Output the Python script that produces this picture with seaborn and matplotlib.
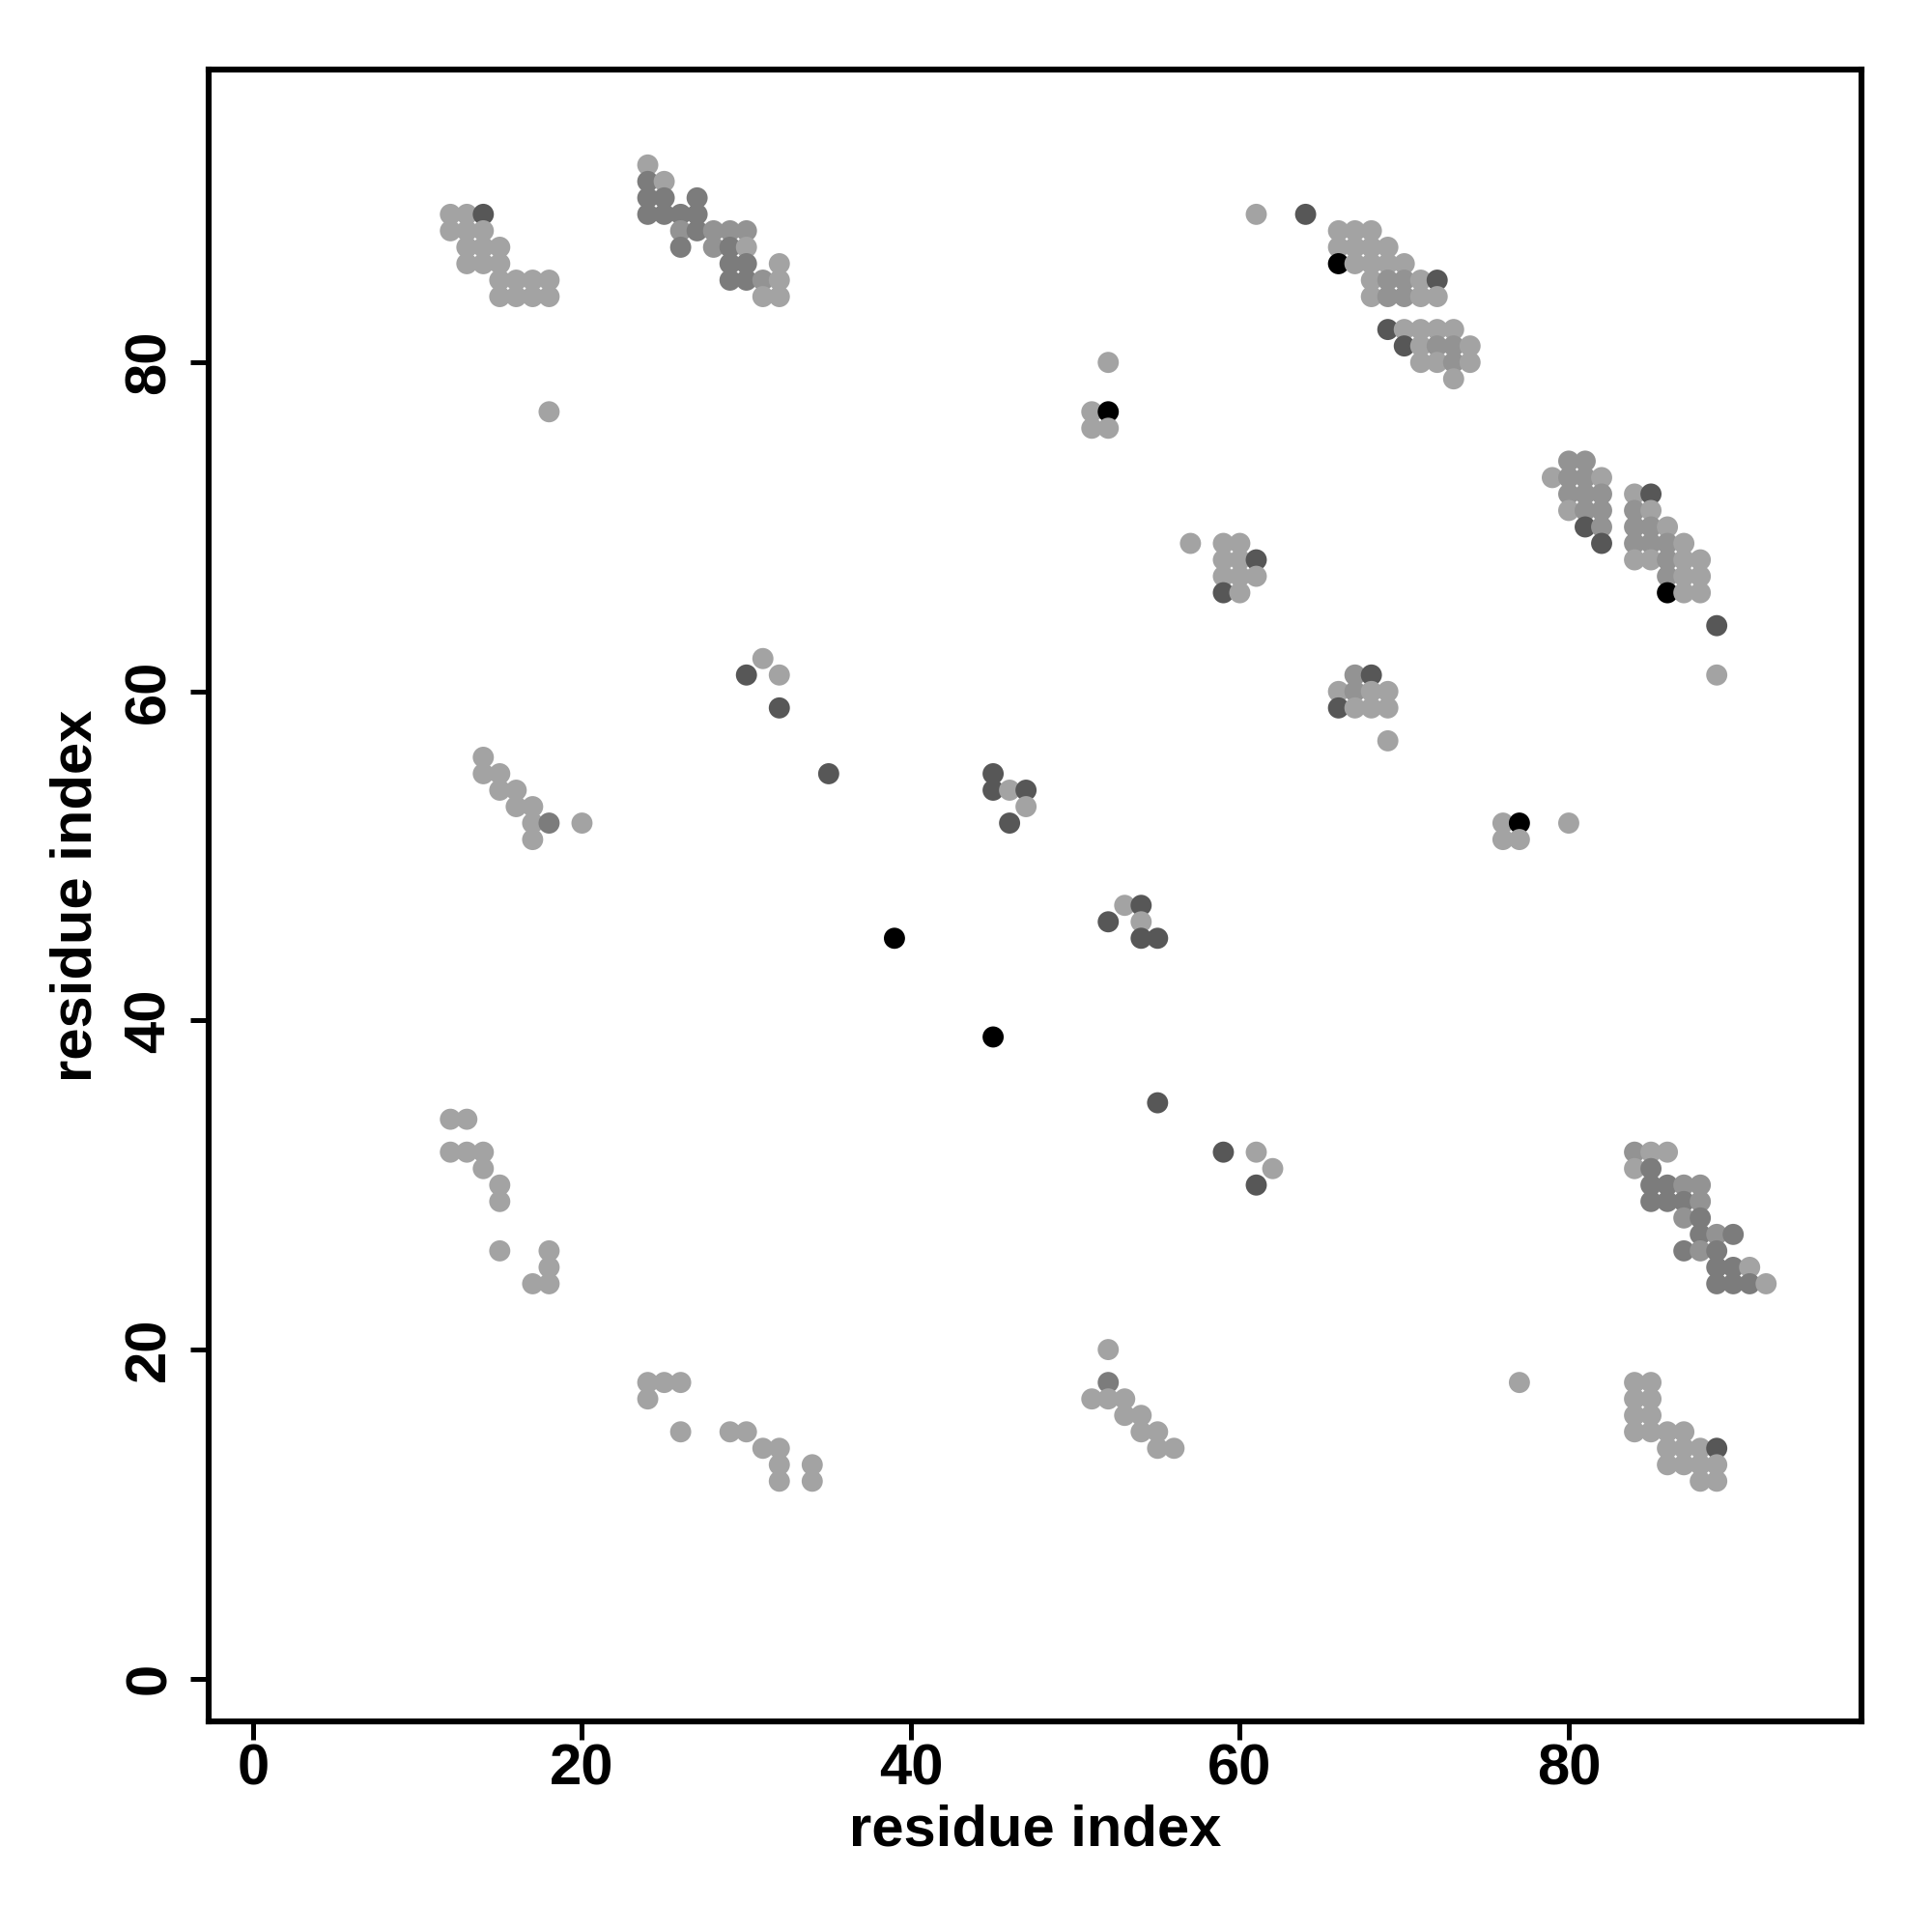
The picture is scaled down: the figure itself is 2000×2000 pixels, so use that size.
import matplotlib
matplotlib.use('Agg')
import pandas as pd
import numpy as np
import matplotlib.pyplot as plt
import seaborn as sns

# residue pairs (x, y) and a shade level (1 light ... 5 black)
res_x = [12, 13, 14, 12, 13, 14, 13, 14, 15, 13, 14, 15, 15, 16, 17, 18, 15, 16, 17, 18,
         24, 24, 25, 24, 25, 27, 24, 25, 26, 27, 26, 27, 28, 29, 30, 26, 28, 29, 30, 29, 30, 32, 29, 30, 31, 32, 31, 32,
         61, 64, 66, 67, 68, 66, 67, 68, 69, 66, 67, 68, 69, 70, 68, 69, 70, 71, 72, 68, 69, 70, 71, 72,
         69, 70, 71, 72, 73, 70, 71, 72, 73, 74, 71, 72, 73, 74, 73,
         80, 81, 79, 80, 81, 82, 80, 81, 82, 84, 85, 80, 81, 82, 84, 85, 81, 82, 84, 85, 86,
         82, 84, 85, 86, 87, 84, 85, 86, 87, 88, 86, 87, 88, 86, 87, 88, 89, 89,
         84, 85, 86, 84, 85, 85, 86, 87, 88, 85, 86, 87, 88, 87, 88, 88, 89, 90, 87, 88, 89,
         89, 90, 91, 89, 90, 91, 92,
         84, 85, 84, 85, 84, 85, 84, 85, 86, 87, 86, 87, 88, 89, 86, 87, 88, 89, 88, 89,
         57, 59, 60, 59, 60, 61, 59, 60, 61, 59, 60,
         67, 68, 66, 67, 68, 69, 66, 67, 68, 69, 69,
         14, 14, 15, 15, 16, 16, 17, 17, 18, 20, 17,
         12, 13, 12, 13, 14, 14, 15, 15, 15, 18, 18, 17, 18,
         24, 25, 26, 24, 26, 29, 30, 31, 32, 32, 34, 32, 34,
         52, 52, 51, 52, 53, 53, 54, 54, 55, 55, 56,
         45, 45, 46, 47, 47, 46,
         53, 54, 52, 54, 54, 55,
         31, 30, 32, 32, 35,
         18, 52, 51, 52, 51, 52, 39, 45, 55, 59, 61, 61, 62, 77, 76, 77, 76, 77, 80]
res_y = [89, 89, 89, 88, 88, 88, 87, 87, 87, 86, 86, 86, 85, 85, 85, 85, 84, 84, 84, 84,
         92, 91, 91, 90, 90, 90, 89, 89, 89, 89, 88, 88, 88, 88, 88, 87, 87, 87, 87, 86, 86, 86, 85, 85, 85, 85, 84, 84,
         89, 89, 88, 88, 88, 87, 87, 87, 87, 86, 86, 86, 86, 86, 85, 85, 85, 85, 85, 84, 84, 84, 84, 84,
         82, 82, 82, 82, 82, 81, 81, 81, 81, 81, 80, 80, 80, 80, 79,
         74, 74, 73, 73, 73, 73, 72, 72, 72, 72, 72, 71, 71, 71, 71, 71, 70, 70, 70, 70, 70,
         69, 69, 69, 69, 69, 68, 68, 68, 68, 68, 67, 67, 67, 66, 66, 66, 64, 61,
         32, 32, 32, 31, 31, 30, 30, 30, 30, 29, 29, 29, 29, 28, 28, 27, 27, 27, 26, 26, 26,
         25, 25, 25, 24, 24, 24, 24,
         18, 18, 17, 17, 16, 16, 15, 15, 15, 15, 14, 14, 14, 14, 13, 13, 13, 13, 12, 12,
         69, 69, 69, 68, 68, 68, 67, 67, 67, 66, 66,
         61, 61, 60, 60, 60, 60, 59, 59, 59, 59, 57,
         56, 55, 55, 54, 54, 53, 53, 52, 52, 52, 51,
         34, 34, 32, 32, 32, 31, 30, 29, 26, 26, 25, 24, 24,
         18, 18, 18, 17, 15, 15, 15, 14, 14, 13, 13, 12, 12,
         20, 18, 17, 17, 17, 16, 16, 15, 15, 14, 14,
         55, 54, 54, 54, 53, 52,
         47, 47, 46, 46, 45, 45,
         62, 61, 61, 59, 55,
         77, 80, 77, 77, 76, 76, 45, 39, 35, 32, 32, 30, 31, 18, 52, 52, 51, 51, 52]
shade = [1, 1, 4, 1, 1, 1, 1, 1, 1, 1, 1, 1, 1, 1, 1, 1, 1, 1, 1, 1,
         1, 3, 1, 3, 3, 3, 3, 3, 3, 3, 2, 3, 2, 2, 2, 3, 2, 3, 1, 3, 3, 1, 3, 3, 2, 1, 1, 1,
         1, 4, 1, 1, 1, 1, 1, 1, 1, 5, 1, 1, 1, 1, 1, 2, 2, 1, 4, 1, 2, 2, 1, 1,
         4, 1, 1, 1, 1, 4, 1, 2, 2, 1, 1, 1, 2, 1, 1,
         2, 2, 1, 2, 2, 1, 2, 2, 2, 1, 4, 1, 2, 2, 2, 1, 4, 2, 2, 2, 1,
         4, 2, 2, 2, 1, 1, 1, 2, 1, 1, 2, 1, 1, 5, 1, 1, 4, 1,
         2, 1, 1, 1, 3, 3, 3, 2, 2, 3, 3, 3, 2, 2, 3, 3, 2, 3, 3, 2, 3,
         3, 3, 1, 3, 3, 3, 1,
         1, 1, 1, 1, 1, 1, 1, 1, 1, 1, 1, 1, 1, 4, 1, 1, 1, 1, 1, 1,
         1, 1, 1, 1, 1, 4, 1, 1, 1, 4, 1,
         2, 4, 1, 2, 1, 1, 4, 1, 1, 1, 1,
         1, 1, 1, 1, 1, 1, 1, 1, 3, 1, 1,
         1, 1, 1, 1, 1, 1, 1, 1, 1, 1, 1, 1, 1,
         1, 1, 1, 1, 1, 1, 1, 1, 1, 1, 1, 1, 1,
         1, 3, 1, 1, 1, 1, 1, 1, 1, 1, 1,
         4, 4, 1, 4, 1, 4,
         1, 4, 4, 1, 4, 4,
         1, 4, 1, 4, 4,
         1, 1, 1, 5, 1, 1, 5, 5, 4, 4, 1, 4, 1, 1, 1, 5, 1, 1, 1]

shade_colors = {1: '#a3a3a3', 2: '#939393', 3: '#7c7c7c', 4: '#575757', 5: '#000000'}
tick_vals = [0, 20, 40, 60, 80]

df = pd.DataFrame({'x': res_x, 'y': res_y, 'shade': shade})

sns.set_style('white')
plt.rcParams['font.family'] = ['Liberation Sans', 'DejaVu Sans']
plt.rcParams['font.weight'] = 'bold'
plt.rcParams['text.color'] = 'black'
plt.rcParams['axes.labelcolor'] = 'black'

fig = plt.figure(figsize=(10, 10), dpi=200)
ax = fig.add_axes([0.108, 0.109, 0.8555, 0.855])

sns.scatterplot(data=df, x='x', y='y', hue='shade', palette=shade_colors,
                s=62, linewidth=0, legend=False, ax=ax)

ax.set_xlim(-2.7, 97.8)
ax.set_ylim(-2.6, 97.8)
ax.set_xticks(tick_vals)
ax.set_yticks(tick_vals)
ax.set_xticklabels([str(t) for t in tick_vals], fontsize=21.5, fontweight='bold')
ax.set_yticklabels([str(t) for t in tick_vals], fontsize=21.5, fontweight='bold',
                   rotation=90, va='center')
ax.tick_params(axis='both', direction='out', length=7, width=1.8, color='black',
               labelcolor='black', bottom=True, left=True)
ax.tick_params(axis='x', pad=1)
ax.tick_params(axis='y', pad=5)
for sp in ax.spines.values():
    sp.set_linewidth(2.2)
    sp.set_color('black')

ax.set_xlabel('residue index', fontsize=21.5, fontweight='bold', color='black')
ax.set_ylabel('residue index', fontsize=21.5, fontweight='bold', color='black')
ax.xaxis.set_label_coords(0.5, -0.066)
ax.xaxis.label.set_va('center')
ax.yaxis.set_label_coords(-0.08, 0.5)
ax.yaxis.label.set_va('center')

plt.savefig('out.png', dpi=200, facecolor='w')
